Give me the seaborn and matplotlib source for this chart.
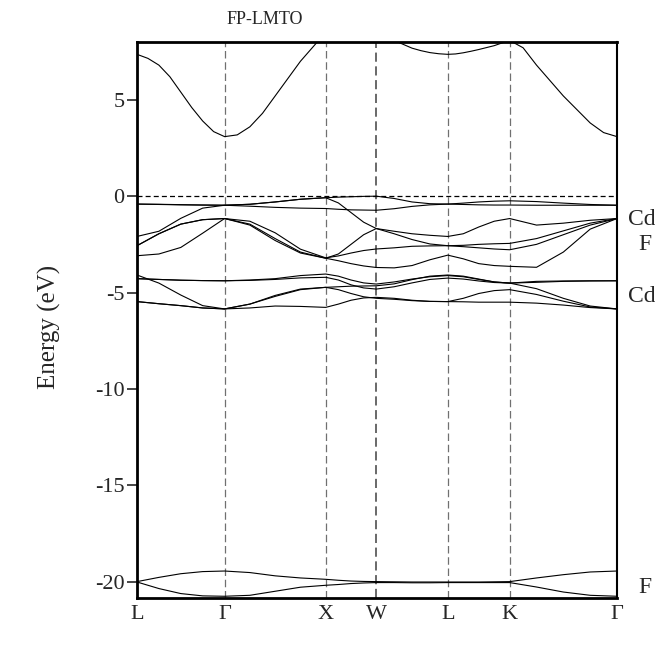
import numpy as np
import pandas as pd
import matplotlib
matplotlib.use("Agg")
import matplotlib.pyplot as plt
import seaborn as sns

# high-symmetry points (path length in units of 2*pi/a)
kpoint_labels = ["L", "Γ", "X", "W", "L", "K", "Γ"]
kpoint_pos = [0.0, 0.866, 1.866, 2.366, 3.073, 3.685, 4.746]

# bands sampled at t = 0, .25, .5, .75, 1 of each segment (L-G, G-X, X-W, W-L, L-K, K-G)
s2_upper = [-20.00, -19.78, -19.59, -19.48, -19.45,
            -19.53, -19.70, -19.81, -19.88,
            -19.93, -19.97, -19.99, -20.00,
            -20.01, -20.02, -20.02, -20.02,
            -20.02, -20.02, -20.01, -20.00,
            -19.81, -19.64, -19.50, -19.45]
s2_lower = [-20.02, -20.36, -20.62, -20.74, -20.76,
            -20.71, -20.50, -20.29, -20.19,
            -20.15, -20.10, -20.07, -20.05,
            -20.05, -20.06, -20.06, -20.05,
            -20.05, -20.05, -20.05, -20.05,
            -20.28, -20.54, -20.71, -20.76]

d1 = [-4.09, -4.51, -5.13, -5.68, -5.85,
      -5.60, -5.20, -4.85, -4.73,
      -4.70, -4.67, -4.66, -4.65,
      -4.55, -4.33, -4.15, -4.09,
      -4.15, -4.30, -4.45, -4.51,
      -4.47, -4.42, -4.40, -4.39]
d2 = [-4.28, -4.32, -4.36, -4.38, -4.39,
      -4.35, -4.28, -4.12, -4.04,
      -4.15, -4.35, -4.50, -4.56,
      -4.45, -4.30, -4.18, -4.12,
      -4.18, -4.32, -4.45, -4.51,
      -4.42, -4.40, -4.39, -4.39]
d3 = [-4.28, -4.32, -4.36, -4.38, -4.39,
      -4.37, -4.32, -4.24, -4.21,
      -4.35, -4.60, -4.76, -4.82,
      -4.70, -4.50, -4.32, -4.25,
      -4.30, -4.40, -4.48, -4.51,
      -4.80, -5.30, -5.70, -5.85]
d4 = [-5.47, -5.58, -5.68, -5.80, -5.85,
      -5.60, -5.15, -4.82, -4.73,
      -4.85, -5.05, -5.22, -5.30,
      -5.35, -5.42, -5.46, -5.47,
      -5.30, -5.05, -4.90, -4.85,
      -5.10, -5.45, -5.75, -5.85]
d5 = [-5.47, -5.58, -5.68, -5.80, -5.85,
      -5.80, -5.70, -5.72, -5.77,
      -5.60, -5.40, -5.28, -5.25,
      -5.30, -5.40, -5.46, -5.47,
      -5.48, -5.50, -5.50, -5.50,
      -5.55, -5.65, -5.78, -5.85]

p1 = [-0.41, -0.42, -0.44, -0.46, -0.47,
      -0.42, -0.30, -0.16, -0.08,
      -0.05, -0.03, -0.01, 0.00,
      -0.12, -0.30, -0.39, -0.41,
      -0.43, -0.45, -0.46, -0.46,
      -0.47, -0.47, -0.47, -0.47]
p2 = [-0.41, -0.43, -0.45, -0.46, -0.47,
      -0.52, -0.58, -0.62, -0.64,
      -0.68, -0.71, -0.72, -0.73,
      -0.65, -0.53, -0.45, -0.41,
      -0.36, -0.30, -0.26, -0.24,
      -0.28, -0.36, -0.43, -0.47]
p3 = [-2.09, -1.82, -1.15, -0.62, -0.47,
      -0.42, -0.30, -0.16, -0.08,
      -0.35, -0.85, -1.35, -1.68,
      -1.82, -1.95, -2.03, -2.09,
      -1.95, -1.60, -1.30, -1.16,
      -1.50, -1.40, -1.25, -1.16]
p4 = [-2.57, -1.95, -1.45, -1.22, -1.16,
      -1.45, -2.20, -2.90, -3.22,
      -3.00, -2.50, -2.00, -1.68,
      -1.95, -2.25, -2.48, -2.57,
      -2.55, -2.50, -2.47, -2.45,
      -2.20, -1.80, -1.40, -1.16]
p5 = [-2.57, -1.95, -1.45, -1.22, -1.16,
      -1.30, -1.90, -2.75, -3.20,
      -3.10, -2.95, -2.82, -2.74,
      -2.68, -2.60, -2.58, -2.57,
      -2.62, -2.68, -2.74, -2.78,
      -2.50, -2.00, -1.50, -1.16]
p6 = [-3.09, -3.00, -2.66, -1.92, -1.16,
      -1.50, -2.30, -2.95, -3.22,
      -3.35, -3.50, -3.62, -3.70,
      -3.72, -3.60, -3.30, -3.06,
      -3.25, -3.50, -3.60, -3.64,
      -3.69, -2.90, -1.71, -1.16]

# conduction band sampled at t = 0, 1/8, ..., 1 of each segment
cond = [7.36, 7.15, 6.80, 6.20, 5.40, 4.60, 3.90, 3.35, 3.09,
        3.18, 3.60, 4.30, 5.20, 6.10, 7.00, 7.75, 8.50,
        8.70, 8.85, 8.95, 9.00, 9.00, 8.95, 8.80, 8.60,
        8.40, 8.08, 7.88, 7.68, 7.55, 7.45, 7.39, 7.36,
        7.38, 7.44, 7.52, 7.61, 7.71, 7.81, 7.95, 8.08,
        7.70, 6.80, 6.00, 5.20, 4.50, 3.80, 3.30, 3.09]

region_labels = ["Cd", "F", "Cd", "F"]
region_energy = [-1.2, -2.5, -5.2, -20.3]


def kgrid(n):
    pts = [kpoint_pos[0]]
    for a, b in zip(kpoint_pos[:-1], kpoint_pos[1:]):
        pts.extend(list(np.linspace(a, b, n + 1))[1:])
    return np.array(pts)


k4 = kgrid(4)
k8 = kgrid(8)

rows = []
named = {"s2_upper": s2_upper, "s2_lower": s2_lower,
         "d1": d1, "d2": d2, "d3": d3, "d4": d4, "d5": d5,
         "p1": p1, "p2": p2, "p3": p3, "p4": p4, "p5": p5, "p6": p6}
for name, vals in named.items():
    for kk, e in zip(k4, vals):
        rows.append((name, kk, e))
for kk, e in zip(k8, cond):
    rows.append(("cond", kk, e))
df = pd.DataFrame(rows, columns=["band", "k", "E"])

sns.set_theme(style="white")
plt.rcParams["font.family"] = ["Liberation Serif", "DejaVu Serif"]

fig = plt.figure(figsize=(6.55, 6.56), dpi=100)
ax = fig.add_axes([137 / 655, 1 - 598 / 656, 480 / 655, (598 - 42) / 656])

for i, xv in enumerate(kpoint_pos[1:-1]):
    is_w = kpoint_labels[i + 1] == "W"
    ax.axvline(xv, color="#404040" if is_w else "#707070", lw=1.1 if is_w else 0.9,
               ls=(0, (6, 3)), zorder=1)
ax.axhline(0, color="black", lw=0.9, ls=(0, (4, 2.5)), zorder=1)

sns.lineplot(data=df, x="k", y="E", units="band", estimator=None, sort=False,
             color="black", lw=0.8, ax=ax, legend=False, zorder=3)

ax.set_xlim(kpoint_pos[0], kpoint_pos[-1])
ax.set_ylim(-20.85, 8.0)
ax.set_xticks(kpoint_pos)
ax.set_xticklabels(kpoint_labels, fontsize=16)
ax.set_yticks([5, 0, -5, -10, -15, -20])
ax.set_yticklabels(["5", "0", "-5", "-10", "-15", "-20"], fontsize=16)
ax.tick_params(axis="y", direction="out", length=7, width=1.2, left=True, pad=2)
ax.tick_params(axis="x", length=0, pad=5)
ax.set_xlabel("")
ax.set_ylabel("Energy (eV)", fontsize=18)
ax.yaxis.set_label_coords(-0.158, 0.488)
for s in ax.spines.values():
    s.set_color("black")
    s.set_linewidth(1.5)
ax.spines["left"].set_linewidth(2.0)
ax.spines["bottom"].set_linewidth(2.0)
ax.spines["top"].set_linewidth(2.0)

for lab, e in zip(region_labels, region_energy):
    ax.text(1.022 if lab == "Cd" else 1.045, e, lab, transform=ax.get_yaxis_transform(),
            ha="left", va="center", fontsize=17)

fig.text(265 / 655, 1 - 20 / 656, "FP-LMTO", ha="center", va="center", fontsize=13)

fig.savefig("out.png", dpi=100, facecolor="white")
